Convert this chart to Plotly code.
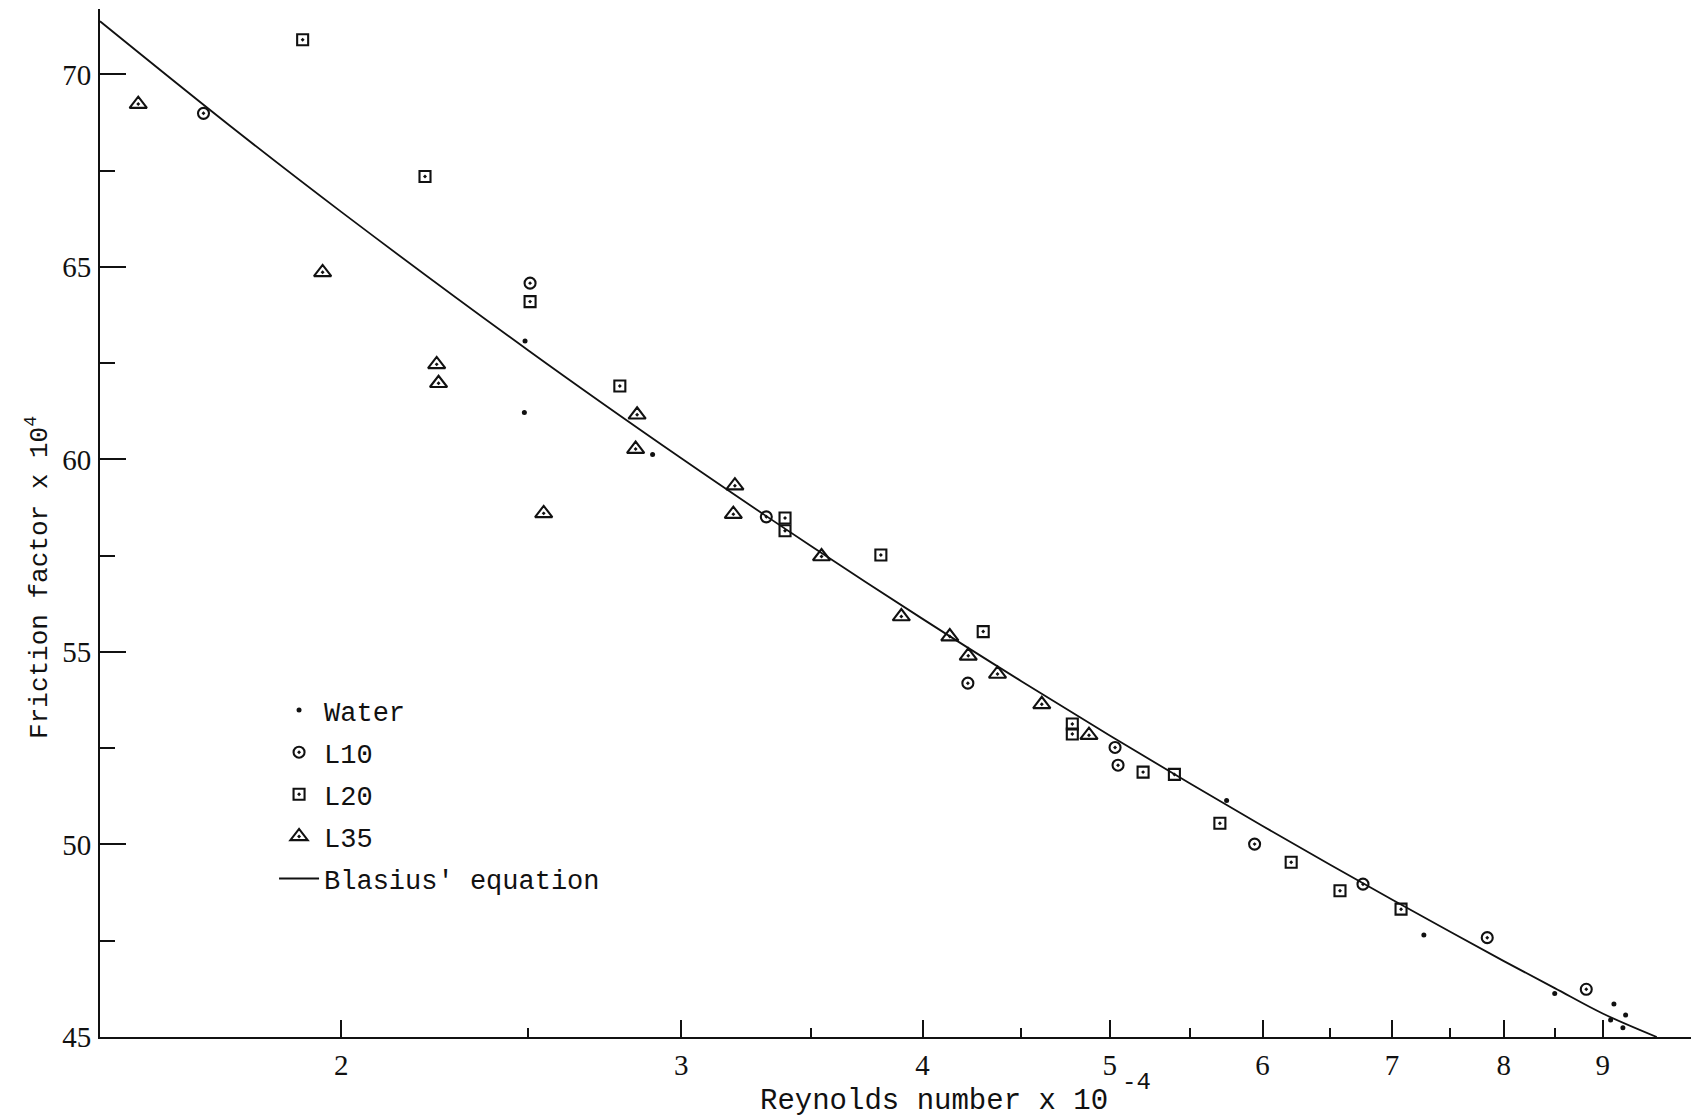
import plotly.graph_objects as go

# Reynolds number x 10^-4 and friction factor x 10^4 for each fluid
water_re = [2.490, 2.488, 2.899, 5.748, 7.272, 8.500, 9.122, 9.250, 9.086, 9.220]
water_f = [63.08, 61.22, 60.13, 51.14, 47.65, 46.13, 45.86, 45.57, 45.44, 45.24]

l10_re = [1.697, 2.505, 3.320, 4.222, 5.032, 5.050, 5.943, 6.763, 7.843, 8.826]
l10_f = [68.99, 64.58, 58.51, 54.19, 52.52, 52.06, 50.01, 48.97, 47.58, 46.24]

l20_re = [1.910, 2.210, 2.505, 2.788, 3.395, 3.395, 3.806, 4.300, 4.782, 4.782,
          5.203, 5.401, 5.702, 6.208, 6.580, 7.077]
l20_f = [70.90, 67.35, 64.10, 61.91, 58.48, 58.15, 57.52, 55.53, 53.13, 52.87,
         51.88, 51.82, 50.55, 49.54, 48.80, 48.32]

l35_re = [1.570, 1.956, 2.241, 2.246, 2.546, 2.846, 2.841, 3.198, 3.192, 3.546,
          3.900, 4.132, 4.224, 4.374, 4.611, 4.878]
l35_f = [69.23, 64.86, 62.47, 61.98, 58.60, 61.16, 60.27, 59.32, 58.58, 57.48,
         55.92, 55.40, 54.90, 54.43, 53.64, 52.84]

# Blasius' equation curve
blasius_re = [1.5, 1.75, 2.0, 2.5, 3.0, 3.5, 4.0, 4.5, 5.0, 5.5, 6.0, 6.5, 7.0,
              7.5, 8.0, 8.5, 9.0, 9.6]
blasius_f = [71.38, 68.68, 66.43, 62.83, 60.03, 57.76, 55.86, 54.24, 52.83,
             51.59, 50.48, 49.48, 48.57, 47.74, 46.97, 46.27, 45.61, 45.0]

x_ticks = [2, 3, 4, 5, 6, 7, 8, 9]
x_minor = [2.5, 3.5, 4.5, 5.5, 6.5, 7.5, 8.5]
y_ticks = [45, 50, 55, 60, 65, 70]
y_minor = [47.5, 52.5, 57.5, 62.5, 67.5]

INK = "#111111"
MONO = "Liberation Mono, Courier New, monospace"
SERIF = "Liberation Serif, Times New Roman, serif"

fig = go.Figure()

fig.add_trace(go.Scatter(
    x=water_re, y=water_f, mode="markers", name="Water", legendgroup="a",
    marker=dict(symbol="circle", size=5, color=INK),
))
fig.add_trace(go.Scatter(
    x=l10_re, y=l10_f, mode="markers", name="L10", legendgroup="b",
    marker=dict(symbol="circle-open-dot", size=11, color=INK,
                line=dict(width=2.1, color=INK)),
))
fig.add_trace(go.Scatter(
    x=l20_re, y=l20_f, mode="markers", name="L20", legendgroup="c",
    marker=dict(symbol="square-open-dot", size=11, color=INK,
                line=dict(width=2.1, color=INK)),
))
fig.add_trace(go.Scatter(
    x=l35_re, y=l35_f, mode="markers", name="L35", legendgroup="d",
    marker=dict(symbol="triangle-up-open-dot", size=15, color=INK,
                line=dict(width=2.1, color=INK)),
))
fig.add_trace(go.Scatter(
    x=blasius_re, y=blasius_f, mode="lines", name="Blasius' equation",
    legendgroup="e",
    line=dict(color=INK, width=1.8, shape="spline", smoothing=1.0),
))

fig.update_xaxes(
    type="log", range=[0.176091, 1.0],
    showline=True, linecolor=INK, linewidth=2, mirror=False,
    showgrid=False, zeroline=False,
    tickmode="array", tickvals=x_ticks, ticktext=[str(v) for v in x_ticks],
    ticks="inside", ticklen=17, tickwidth=1.8, tickcolor=INK,
    minor=dict(tickmode="array", tickvals=x_minor, ticks="inside",
               ticklen=9, tickwidth=1.6, tickcolor=INK, showgrid=False),
    tickfont=dict(family=SERIF, size=29, color=INK),
    ticklabelstandoff=1,
)
fig.update_yaxes(
    range=[45, 71.7],
    showline=True, linecolor=INK, linewidth=2, mirror=False,
    showgrid=False, zeroline=False,
    tickmode="array", tickvals=y_ticks, ticktext=[str(v) for v in y_ticks],
    ticks="inside", ticklen=26, tickwidth=1.8, tickcolor=INK,
    minor=dict(tickmode="array", tickvals=y_minor, ticks="inside",
               ticklen=15, tickwidth=1.6, tickcolor=INK, showgrid=False),
    tickfont=dict(family=SERIF, size=29, color=INK),
    ticklabelstandoff=1,
)

# x-axis title, typed with its exponent raised beside it
fig.add_annotation(
    text="Reynolds number x 10", xref="paper", yref="paper",
    x=0.5242, y=-0.0807, xanchor="center", yanchor="bottom", showarrow=False,
    font=dict(family=MONO, size=29, color=INK),
)
fig.add_annotation(
    text="-4", xref="paper", yref="paper",
    x=0.6512, y=-0.0438, xanchor="center", yanchor="middle", showarrow=False,
    font=dict(family=MONO, size=24, color=INK),
)
fig.add_annotation(
    text="Friction factor x 10<sup>4</sup>", xref="paper", yref="paper",
    x=-0.039, y=0.4475, xanchor="center", yanchor="middle", showarrow=False,
    textangle=-90, font=dict(family=MONO, size=26, color=INK),
)

fig.update_layout(
    width=1691, height=1120, autosize=False,
    margin=dict(l=100, r=0, t=9, b=83),
    paper_bgcolor="white", plot_bgcolor="white",
    showlegend=True,
    legend=dict(
        x=0.1094, y=0.3414, xanchor="left", yanchor="top",
        bgcolor="rgba(0,0,0,0)", borderwidth=0,
        font=dict(family=MONO, size=27, color=INK),
        tracegroupgap=4, traceorder="grouped", itemwidth=40,
    ),
)

fig.write_html("out.html")
